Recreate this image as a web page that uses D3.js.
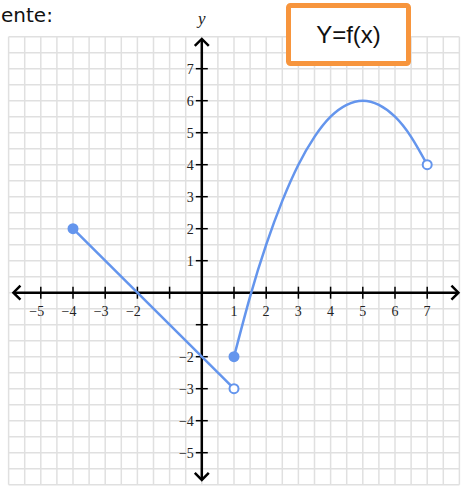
<!DOCTYPE html>
<html>
<head>
<meta charset="utf-8">
<script src="https://cdn.jsdelivr.net/npm/d3@7"></script>
<style>
  body { margin: 0; background: #fff; }
  svg { display: block; }
</style>
</head>
<body>
<div id="chart-container"></div>
<script>
// Data
var lineSegment = [ { x: -4, y: 2 }, { x: 1, y: -3 } ];
var curveSegment = [
  { x: 1, y: -2 }, { x: 1.5, y: -0.12 }, { x: 2, y: 1.5 }, { x: 2.5, y: 2.87 },
  { x: 3, y: 4 }, { x: 3.5, y: 4.87 }, { x: 4, y: 5.5 }, { x: 4.5, y: 5.87 },
  { x: 5, y: 6 }, { x: 5.5, y: 5.87 }, { x: 6, y: 5.5 }, { x: 6.5, y: 4.87 },
  { x: 7, y: 4 }
];
var filledPoints = [ { x: -4, y: 2 }, { x: 1, y: -2 } ];
var openPoints = [ { x: 1, y: -3 }, { x: 7, y: 4 } ];
var xTickLabels = [-5, -4, -3, -2, 1, 2, 3, 4, 5, 6, 7];
var yTickLabels = [-5, -4, -3, -2, 1, 2, 3, 4, 5, 6, 7];
var xTicks = [-5, -4, -3, -2, -1, 1, 2, 3, 4, 5, 6, 7];
var yTicks = [-5, -4, -3, -2, -1, 1, 2, 3, 4, 5, 6, 7];

var width = 468, height = 486;
var blue = "#6495ed";

var svg = d3.select("#chart-container")
  .append("svg")
  .attr("width", width)
  .attr("height", height);

// Scales
var xScale = d3.scaleLinear().domain([-6, 8]).range([8.6, 459.4]);
var yScale = d3.scaleLinear().domain([8, -6]).range([36.7, 484.7]);

// Grid (half-unit)
var grid = svg.append("g").attr("class", "grid");
d3.range(-12, 17).forEach(function(i) {
  var v = i / 2;
  grid.append("line")
    .attr("x1", xScale(v)).attr("x2", xScale(v))
    .attr("y1", yScale(8)).attr("y2", yScale(-6))
    .attr("stroke", "#e0e0e0").attr("stroke-width", 1.5);
  grid.append("line")
    .attr("y1", yScale(v)).attr("y2", yScale(v))
    .attr("x1", xScale(-6)).attr("x2", xScale(8))
    .attr("stroke", "#e0e0e0").attr("stroke-width", 1.5);
});

// Axes
var axes = svg.append("g").attr("stroke", "#000").attr("fill", "none");
var x0 = xScale(0), y0 = yScale(0);
axes.append("line")
  .attr("x1", xScale(-5.85)).attr("x2", xScale(7.97))
  .attr("y1", y0).attr("y2", y0).attr("stroke-width", 2.5);
axes.append("line")
  .attr("x1", x0).attr("x2", x0)
  .attr("y1", yScale(7.93)).attr("y2", yScale(-5.85)).attr("stroke-width", 2.5);

// Arrow heads (chevrons)
var a = 7;
function chevron(px, py, dx, dy) {
  // dx, dy is the arrow direction
  var p1 = [px - dx * a - dy * a, py - dy * a - dx * a];
  var p2 = [px - dx * a + dy * a, py - dy * a + dx * a];
  axes.append("path")
    .attr("d", "M" + p1 + "L" + px + "," + py + "L" + p2)
    .attr("stroke-width", 2.5)
    .attr("stroke-linejoin", "miter");
}
chevron(xScale(7.97), y0, 1, 0);
chevron(xScale(-5.85), y0, -1, 0);
chevron(x0, yScale(7.93), 0, -1);
chevron(x0, yScale(-5.85), 0, 1);

// Tick marks
xTicks.forEach(function(t) {
  axes.append("line")
    .attr("x1", xScale(t)).attr("x2", xScale(t))
    .attr("y1", y0 - 6).attr("y2", y0 + 6).attr("stroke-width", 1.5);
});
yTicks.forEach(function(t) {
  axes.append("line")
    .attr("y1", yScale(t)).attr("y2", yScale(t))
    .attr("x1", x0 - 6).attr("x2", x0 + 6).attr("stroke-width", 1.5);
});

// Tick labels
var labelFont = "'Liberation Serif', 'DejaVu Serif', serif";
svg.append("g").selectAll("text")
  .data(xTickLabels)
  .join("text")
  .attr("x", function(d) { return xScale(d) + 3.4; })
  .attr("y", y0 + 23)
  .attr("text-anchor", "end")
  .attr("font-family", labelFont)
  .attr("font-size", 14)
  .attr("fill", "#222")
  .text(function(d) { return d < 0 ? "\u2212" + (-d) : d; });

svg.append("g").selectAll("text")
  .data(yTickLabels)
  .join("text")
  .attr("x", x0 - 8)
  .attr("y", function(d) { return yScale(d) + 4.8; })
  .attr("text-anchor", "end")
  .attr("font-family", labelFont)
  .attr("font-size", 14)
  .attr("fill", "#222")
  .text(function(d) { return d < 0 ? "\u2212" + (-d) : d; });

// y label
svg.append("text")
  .attr("x", x0)
  .attr("y", 24)
  .attr("text-anchor", "middle")
  .attr("font-family", labelFont)
  .attr("font-style", "italic")
  .attr("font-size", 17)
  .attr("fill", "#222")
  .text("y");

// Function graph
var line = d3.line()
  .x(function(d) { return xScale(d.x); })
  .y(function(d) { return yScale(d.y); });

svg.append("path")
  .datum(lineSegment)
  .attr("d", line)
  .attr("fill", "none")
  .attr("stroke", blue)
  .attr("stroke-width", 2.5);

svg.append("path")
  .datum(curveSegment)
  .attr("d", line.curve(d3.curveNatural))
  .attr("fill", "none")
  .attr("stroke", blue)
  .attr("stroke-width", 2.5);

svg.append("g").selectAll("circle")
  .data(filledPoints)
  .join("circle")
  .attr("cx", function(d) { return xScale(d.x); })
  .attr("cy", function(d) { return yScale(d.y); })
  .attr("r", 5.5)
  .attr("fill", blue);

svg.append("g").selectAll("circle")
  .data(openPoints)
  .join("circle")
  .attr("cx", function(d) { return xScale(d.x); })
  .attr("cy", function(d) { return yScale(d.y); })
  .attr("r", 4.5)
  .attr("fill", "#fff")
  .attr("stroke", blue)
  .attr("stroke-width", 2);

// Heading fragment at top-left
svg.append("text")
  .attr("x", 1)
  .attr("y", 22)
  .attr("font-family", "'DejaVu Sans', sans-serif")
  .attr("font-size", 20)
  .attr("fill", "#111")
  .text("ente:");

// Y=f(x) box
svg.append("rect")
  .attr("x", 288.5).attr("y", 5.5)
  .attr("width", 120).attr("height", 58)
  .attr("rx", 2)
  .attr("fill", "#fff")
  .attr("stroke", "#f7953d")
  .attr("stroke-width", 5);
svg.append("text")
  .attr("x", 348.5)
  .attr("y", 43)
  .attr("text-anchor", "middle")
  .attr("font-family", "'Liberation Sans', Arial, sans-serif")
  .attr("font-size", 24)
  .attr("fill", "#111")
  .text("Y=f(x)");
</script>
</body>
</html>
